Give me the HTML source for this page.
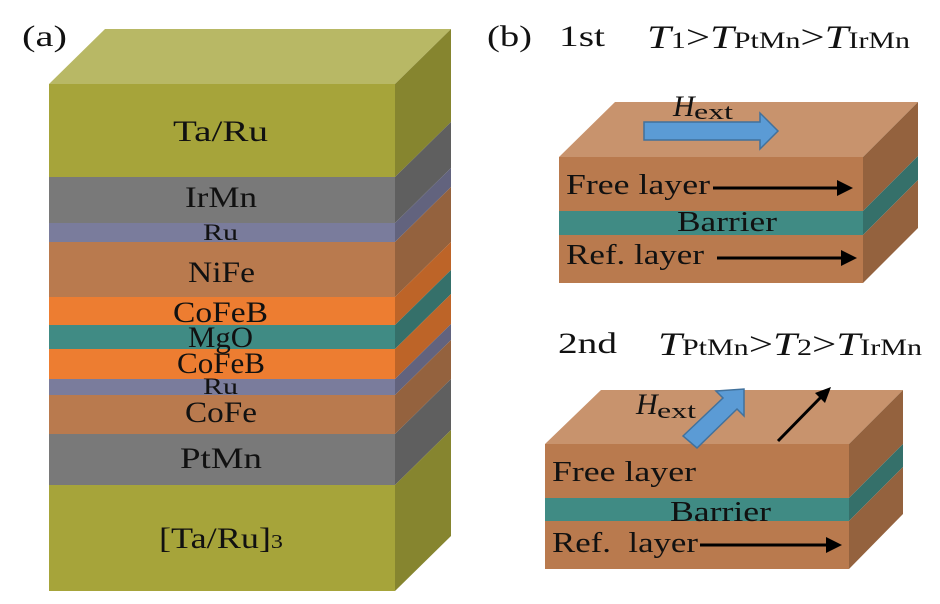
<!DOCTYPE html>
<html><head><meta charset="utf-8"><style>
html,body{margin:0;padding:0;background:#fff;}
svg{display:block;}
text{font-family:"Liberation Serif",serif;fill:#111;}
</style></head><body>
<svg width="940" height="604" viewBox="0 0 940 604" xmlns="http://www.w3.org/2000/svg">
<text x="22" y="46" font-size="30" textLength="45" lengthAdjust="spacingAndGlyphs">(a)</text>
<polygon points="49,84 105,29 451,29 395,84" fill="#b8b865"/>
<rect x="49" y="84" width="346" height="93" fill="#a6a43a"/>
<rect x="49" y="177" width="346" height="46" fill="#797979"/>
<rect x="49" y="223" width="346" height="19" fill="#7a7c9c"/>
<rect x="49" y="242" width="346" height="55" fill="#b97a4e"/>
<rect x="49" y="297" width="346" height="28" fill="#ed7d31"/>
<rect x="49" y="325" width="346" height="24" fill="#408b84"/>
<rect x="49" y="349" width="346" height="30" fill="#ed7d31"/>
<rect x="49" y="379" width="346" height="16" fill="#7a7c9c"/>
<rect x="49" y="395" width="346" height="39" fill="#b97a4e"/>
<rect x="49" y="434" width="346" height="51" fill="#797979"/>
<rect x="49" y="485" width="346" height="106" fill="#a6a43a"/>
<g>
<polygon points="395,84 451,29 451,122 395,177" fill="#86852f"/>
<polygon points="395,177 451,122 451,168 395,223" fill="#5f5f5f"/>
<polygon points="395,223 451,168 451,187 395,242" fill="#62637e"/>
<polygon points="395,242 451,187 451,242 395,297" fill="#94623e"/>
<polygon points="395,297 451,242 451,270 395,325" fill="#bd6428"/>
<polygon points="395,325 451,270 451,294 395,349" fill="#35706a"/>
<polygon points="395,349 451,294 451,324 395,379" fill="#bd6428"/>
<polygon points="395,379 451,324 451,340 395,395" fill="#62637e"/>
<polygon points="395,395 451,340 451,379 395,434" fill="#94623e"/>
<polygon points="395,434 451,379 451,430 395,485" fill="#5f5f5f"/>
<polygon points="395,485 451,430 451,536 395,591" fill="#86852f"/>
</g>
<g font-size="30">
<text x="173" y="141" textLength="95" lengthAdjust="spacingAndGlyphs">Ta/Ru</text>
<text x="185" y="207" textLength="72" lengthAdjust="spacingAndGlyphs">IrMn</text>
<text x="203" y="240" font-size="23" textLength="35" lengthAdjust="spacingAndGlyphs">Ru</text>
<text x="188" y="282" textLength="67" lengthAdjust="spacingAndGlyphs">NiFe</text>
<text x="173" y="322" textLength="95" lengthAdjust="spacingAndGlyphs">CoFeB</text>
<text x="188" y="347" textLength="65" lengthAdjust="spacingAndGlyphs">MgO</text>
<text x="177" y="373" textLength="88" lengthAdjust="spacingAndGlyphs">CoFeB</text>
<text x="203" y="394" font-size="23" textLength="35" lengthAdjust="spacingAndGlyphs">Ru</text>
<text x="185" y="422" textLength="72" lengthAdjust="spacingAndGlyphs">CoFe</text>
<text x="180" y="468" textLength="82" lengthAdjust="spacingAndGlyphs">PtMn</text>
<text x="159" y="548" textLength="124" lengthAdjust="spacingAndGlyphs">[Ta/Ru]<tspan font-size="20">3</tspan></text>
</g>

<text x="487" y="46" font-size="30" textLength="45" lengthAdjust="spacingAndGlyphs">(b)</text>
<text x="559" y="46" font-size="30" textLength="46" lengthAdjust="spacingAndGlyphs">1st</text>
<text x="647" y="48" font-size="33" textLength="263" lengthAdjust="spacingAndGlyphs"><tspan font-style="italic">T</tspan><tspan font-size="23">1</tspan>&gt;<tspan font-style="italic">T</tspan><tspan font-size="23">PtMn</tspan>&gt;<tspan font-style="italic">T</tspan><tspan font-size="23">IrMn</tspan></text>

<polygon points="559,157 615,102 918,102 863,157" fill="#c8936d"/>
<rect x="559" y="157" width="304" height="54" fill="#b97a4e"/>
<rect x="559" y="211" width="304" height="24" fill="#408b84"/>
<rect x="559" y="235" width="304" height="48" fill="#b97a4e"/>
<polygon points="863,157 918,102 918,156 863,211" fill="#94623e"/>
<polygon points="863,211 918,156 918,180 863,235" fill="#35706a"/>
<polygon points="863,235 918,180 918,228 863,283" fill="#94623e"/>
<text x="673" y="116" font-size="30" font-style="italic">H</text><text x="694" y="119" font-size="22" textLength="39" lengthAdjust="spacingAndGlyphs">ext</text>
<polygon points="644,122 760,122 760,113 778,131 760,149 760,140 644,140" fill="#5b9bd5" stroke="#41719c" stroke-width="1.5"/>
<g font-size="29">
<text x="566" y="194" textLength="144" lengthAdjust="spacingAndGlyphs">Free layer</text>
<text x="677" y="231" textLength="100" lengthAdjust="spacingAndGlyphs">Barrier</text>
<text x="566" y="264" textLength="138" lengthAdjust="spacingAndGlyphs">Ref. layer</text>
</g>
<line x1="713" y1="188" x2="840" y2="188" stroke="#000" stroke-width="3"/>
<polygon points="837,180 853,188 837,196" fill="#000"/>
<line x1="717" y1="258" x2="844" y2="258" stroke="#000" stroke-width="3"/>
<polygon points="841,250 857,258 841,266" fill="#000"/>

<text x="558" y="353" font-size="30" textLength="59" lengthAdjust="spacingAndGlyphs">2nd</text>
<text x="658" y="355" font-size="33" textLength="264" lengthAdjust="spacingAndGlyphs"><tspan font-style="italic">T</tspan><tspan font-size="23">PtMn</tspan>&gt;<tspan font-style="italic">T</tspan><tspan font-size="23">2</tspan>&gt;<tspan font-style="italic">T</tspan><tspan font-size="23">IrMn</tspan></text>

<polygon points="545,444 601,390 903,390 849,444" fill="#c8936d"/>
<rect x="545" y="444" width="304" height="54" fill="#b97a4e"/>
<rect x="545" y="498" width="304" height="23" fill="#408b84"/>
<rect x="545" y="521" width="304" height="48" fill="#b97a4e"/>
<polygon points="849,444 903,390 903,444 849,498" fill="#94623e"/>
<polygon points="849,498 903,444 903,467 849,521" fill="#35706a"/>
<polygon points="849,521 903,467 903,514 849,569" fill="#94623e"/>
<text x="636" y="414" font-size="30" font-style="italic">H</text><text x="657" y="418" font-size="22" textLength="39" lengthAdjust="spacingAndGlyphs">ext</text>
<polygon points="683,436 723,398 716,391 744,389 744,416 737,409 697,448" fill="#5b9bd5" stroke="#41719c" stroke-width="1.5"/>
<line x1="778" y1="441" x2="823" y2="395" stroke="#000" stroke-width="3"/>
<polygon points="815,393 831,387 825,403" fill="#000"/>
<g font-size="29">
<text x="552" y="481" textLength="144" lengthAdjust="spacingAndGlyphs">Free layer</text>
<text x="670" y="521" textLength="101" lengthAdjust="spacingAndGlyphs">Barrier</text>
<text x="552" y="552" textLength="146" lengthAdjust="spacingAndGlyphs">Ref.&#160;&#160;layer</text>
</g>
<line x1="700" y1="545" x2="828" y2="545" stroke="#000" stroke-width="3"/>
<polygon points="826,537 842,545 826,553" fill="#000"/>
</svg>
</body></html>
